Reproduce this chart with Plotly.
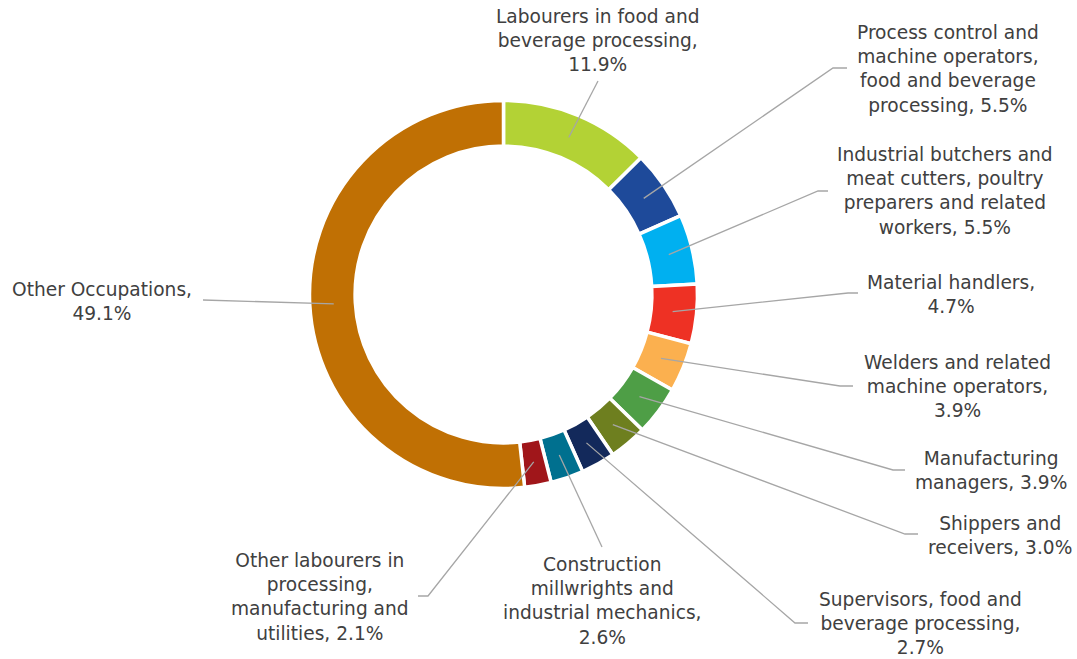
import math
import plotly.graph_objects as go

# ---- data ----
categories = [
    "Labourers in food and beverage processing",
    "Process control and machine operators, food and beverage processing",
    "Industrial butchers and meat cutters, poultry preparers and related workers",
    "Material handlers",
    "Welders and related machine operators",
    "Manufacturing managers",
    "Shippers and receivers",
    "Supervisors, food and beverage processing",
    "Construction millwrights and industrial mechanics",
    "Other labourers in processing, manufacturing and utilities",
    "Other Occupations",
]
values = [11.9, 5.5, 5.5, 4.7, 3.9, 3.9, 3.0, 2.7, 2.6, 2.1, 49.1]
label_text = [
    "Labourers in food and<br>beverage processing,<br>11.9%",
    "Process control and<br>machine operators,<br>food and beverage<br>processing, 5.5%",
    "Industrial butchers and<br>meat cutters, poultry<br>preparers and related<br>workers, 5.5%",
    "Material handlers,<br>4.7%",
    "Welders and related<br>machine operators,<br>3.9%",
    "Manufacturing<br>managers, 3.9%",
    "Shippers and<br>receivers, 3.0%",
    "Supervisors, food and<br>beverage processing,<br>2.7%",
    "Construction<br>millwrights and<br>industrial mechanics,<br>2.6%",
    "Other labourers in<br>processing,<br>manufacturing and<br>utilities, 2.1%",
    "Other Occupations,<br>49.1%",
]
colors = ["#B3D235", "#1E4A9A", "#00B0F0", "#EE3124", "#FBB04F", "#4E9E46",
          "#6E7F1F", "#13295B", "#00708F", "#A0161A", "#C07004"]

# ---- layout geometry (pixels) ----
W, H = 1077, 659
CX, CY, R = 503.5, 294.5, 194
LEADER_R = 170
label_pos = [(598, 40), (948, 69), (945, 191), (951, 295), (957, 386), (991, 470),
             (1000, 535), (920, 623), (602, 601), (320, 597), (102, 302)]
leader_knees = [
    [(598, 81)],
    [(847, 68), (833, 68)],
    [(828, 191), (818, 191)],
    [(858, 293), (848, 293)],
    [(853, 386), (840, 386)],
    [(905, 470), (893, 470)],
    [(918, 534), (905, 534)],
    [(808, 623), (795, 623)],
    [(602, 547)],
    [(418, 596), (428, 596)],
    [(203, 300)],
]

def px(x):
    return x / W

def py(y):
    return 1 - y / H

fig = go.Figure(go.Pie(
    labels=categories, values=values, sort=False, direction="clockwise", rotation=0,
    hole=0.765, textinfo="none", hoverinfo="none",
    marker=dict(colors=colors, line=dict(color="white", width=3.5)),
    domain=dict(x=[px(CX - R), px(CX + R)], y=[py(CY + R), py(CY - R)]),
    showlegend=False,
))

total = sum(values)
cum = 0.0
shapes = []
annotations = []
for i, v in enumerate(values):
    mid = (cum + v / 2) / total * 2 * math.pi
    cum += v
    sx = CX + LEADER_R * math.sin(mid)
    sy = CY - LEADER_R * math.cos(mid)
    pts = leader_knees[i] + [(sx, sy)]
    path = "M " + " L ".join(f"{px(x):.5f},{py(y):.5f}" for x, y in pts)
    shapes.append(dict(type="path", path=path, xref="paper", yref="paper",
                       line=dict(color="#A6A6A6", width=1.3)))
    lx, ly = label_pos[i]
    annotations.append(dict(text=label_text[i], x=px(lx), y=py(ly), xref="paper", yref="paper",
                            xanchor="center", yanchor="middle", align="center", showarrow=False,
                            font=dict(family="DejaVu Sans, Arial, sans-serif", size=18.6,
                                      color="#404040")))

fig.update_layout(
    width=W, height=H, margin=dict(l=0, r=0, t=0, b=0),
    paper_bgcolor="white", plot_bgcolor="white",
    shapes=shapes, annotations=annotations,
)
fig.write_html("out.html")
